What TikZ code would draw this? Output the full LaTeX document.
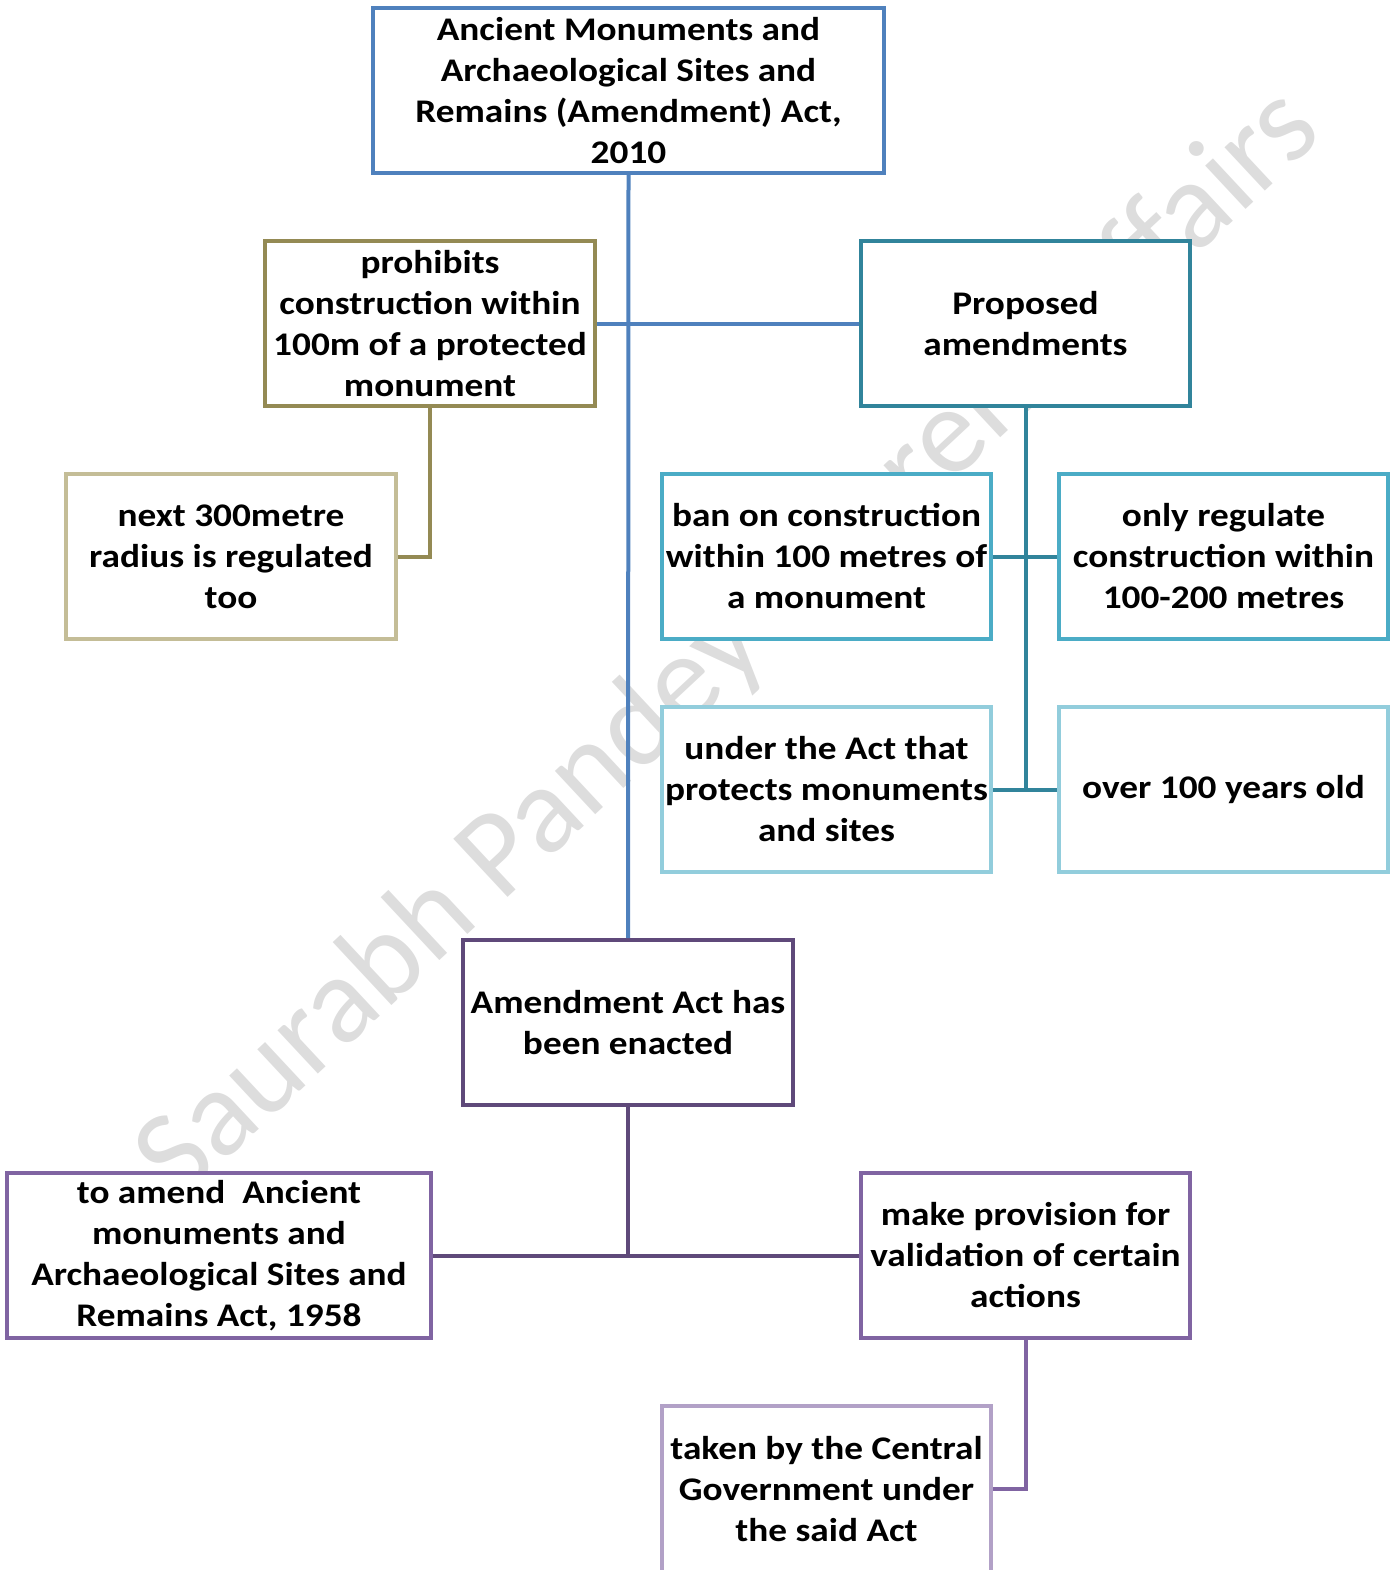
\documentclass[tikz,border=0pt]{standalone}
\usepackage{fontspec}
\setmainfont{Carlito}[FakeStretch=1.13]
\newfontfamily\wmfont{Carlito}
\begin{document}
\begin{tikzpicture}[x=1pt,y=-1pt,
  box/.style={draw=#1, fill=white, line width=4pt, align=center, inner sep=0pt, font=\bfseries\fontsize{33}{41}\selectfont},
  conn/.style={draw=#1, line width=4pt}]
\definecolor{cBlue}{HTML}{4F81BD}
\definecolor{cOlive}{HTML}{948A54}
\definecolor{cKhaki}{HTML}{C4BD97}
\definecolor{cTeal}{HTML}{31849B}
\definecolor{cAqua}{HTML}{4BACC6}
\definecolor{cLAqua}{HTML}{92CDDC}
\definecolor{cDPurple}{HTML}{5F497A}
\definecolor{cPurple}{HTML}{8064A2}
\definecolor{cLPurple}{HTML}{B2A1C7}
\definecolor{cWm}{HTML}{DDDDDD}
\useasboundingbox (0,0) rectangle (1390,1570);
% watermark
\node[text=cWm, rotate=43, font=\wmfont\fontsize{124}{124}\selectfont, inner sep=0pt] (wm) at (730,645) {Saurabh Pandey Current Affairs};
% boxes
\node[box=cBlue, minimum width=511pt, minimum height=165pt] (top) at (628.5,90.5) {Ancient Monuments and\\Archaeological Sites and\\Remains (Amendment) Act,\\2010};
\node[box=cOlive, minimum width=330pt, minimum height=165pt] (proh) at (430,323.5) {prohibits\\construction within\\100m of a protected\\monument};
\node[box=cTeal, minimum width=329pt, minimum height=165pt] (prop) at (1025.5,323.5) {Proposed\\amendments};
\node[box=cKhaki, minimum width=330pt, minimum height=165pt] (next) at (231,556.5) {next 300metre\\radius is regulated\\too};
\node[box=cAqua, minimum width=329pt, minimum height=165pt] (ban) at (826.5,556.5) {ban on construction\\within 100 metres of\\a monument};
\node[box=cAqua, minimum width=329pt, minimum height=165pt] (only) at (1223.5,556.5) {only regulate\\construction within\\100-200 metres};
\node[box=cLAqua, minimum width=329pt, minimum height=165pt] (under) at (826.5,789.5) {under the Act that\\protects monuments\\and sites};
\node[box=cLAqua, minimum width=329pt, minimum height=165pt] (over) at (1223.5,789.5) {over 100 years old};
\node[box=cDPurple, minimum width=330pt, minimum height=165pt] (enact) at (628,1022.5) {Amendment Act has\\been enacted};
\node[box=cPurple, minimum width=424pt, minimum height=165pt] (amend) at (219,1255.5) {to amend\ \ Ancient\\monuments and\\Archaeological Sites and\\Remains Act, 1958};
\node[box=cPurple, minimum width=329pt, minimum height=165pt] (make) at (1025.5,1255.5) {make provision for\\validation of certain\\actions};
\node[box=cLPurple, minimum width=329pt, minimum height=200pt] (taken) at (826.5,1506) {};
\node[font=\bfseries\fontsize{33}{41}\selectfont, align=center, inner sep=0pt] (takentxt) at (826.5,1489) {taken by the Central\\Government under\\the said Act};
% connectors
\draw[conn=cBlue] (top.south) -- (enact.north);
\draw[conn=cBlue] (proh.east) -- (prop.west);
\draw[conn=cOlive] (proh.south) |- (next.east);
\draw[conn=cTeal] (prop.south) -- (prop.south |- under.east);
\draw[conn=cTeal] (ban.east) -- (only.west);
\draw[conn=cTeal] (under.east) -- (over.west);
\draw[conn=cDPurple] (enact.south) -- (enact.south |- amend.east);
\draw[conn=cDPurple] (amend.east) -- (make.west);
\draw[conn=cPurple] (make.south) |- (taken.east |- takentxt);
\end{tikzpicture}
\end{document}
